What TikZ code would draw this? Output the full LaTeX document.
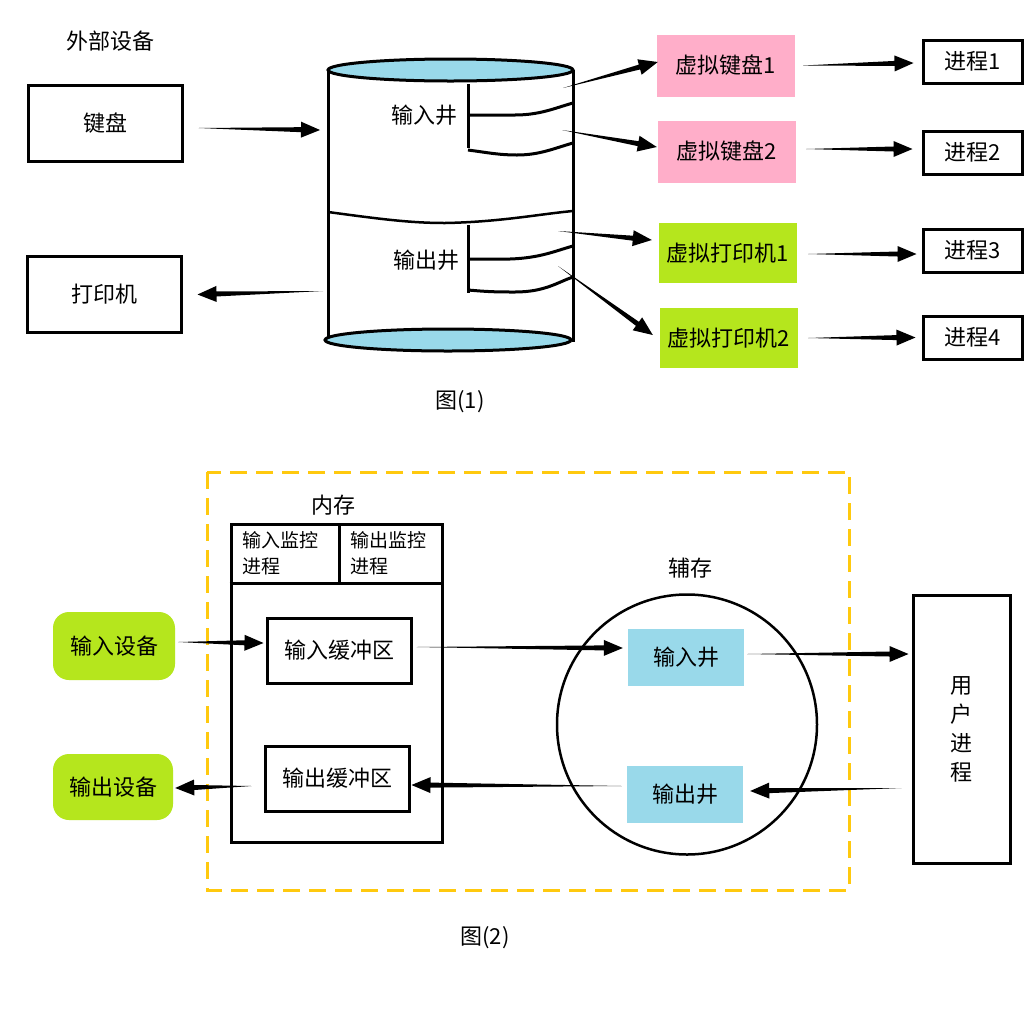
\documentclass[tikz,border=0pt]{standalone}
\usepackage{fontspec}
\setmainfont{Noto Sans CJK SC}
\usepackage{tikz}
\usetikzlibrary{calc, positioning}

\definecolor{vkpink}{HTML}{FFAEC9}
\definecolor{vpgreen}{HTML}{B5E61D}
\definecolor{wellblue}{HTML}{99D9EA}
\definecolor{dashyellow}{HTML}{FFC90E}

\begin{document}
\begin{tikzpicture}[x=1pt, y=-1pt, every node/.style={font=\fontsize{22}{26}\selectfont}]
			\tikzstyle{devbox}=[draw=black, line width=3pt, minimum width=154, minimum height=76, inner sep=0]
			\tikzstyle{virtbox}=[draw=none, minimum width=138, minimum height=62, inner sep=0]
			\tikzstyle{procbox}=[draw=black, line width=3pt, minimum width=99, minimum height=43, inner sep=0]
			\tikzstyle{bufbox}=[draw=black, line width=3pt, minimum width=144, minimum height=65, inner sep=0]
			\tikzstyle{wellbox}=[fill=wellblue, minimum width=116, minimum height=57, inner sep=0]
			\tikzstyle{iodev}=[fill=vpgreen, rounded corners=16, minimum width=122, minimum height=68, inner sep=0]
			\tikzstyle{wedge}=[fill=black, to path={
				let \p1=($(\tikztotarget)!19pt!(\tikztostart)$) in
				-- ($(\p1)!2.5pt!90:(\tikztotarget)$)
				-- ($(\p1)!8pt!90:(\tikztotarget)$)
				-- (\tikztotarget)
				-- ($(\p1)!8pt!-90:(\tikztotarget)$)
				-- ($(\p1)!2.5pt!-90:(\tikztotarget)$)
				-- cycle}]
			
			\useasboundingbox [fill=white] (0,0) rectangle (1031,1018);
			
			%% figure 1
			\node (ext) at (110,41) {外部设备};
			\node (kbd) at (105,123) [devbox] {键盘};
			\node (prn) at (104,294.5) [devbox] {打印机};
			
			%% disk
			\draw [line width=3pt] (328,70) -- (328,340);
			\draw [line width=3pt] (573,70) -- (573,342);
			\draw [line width=3pt, fill=wellblue] (450.5,70) ellipse [x radius=122.5, y radius=11];
			\draw [line width=3pt, fill=wellblue] (448,340) ellipse [x radius=123, y radius=11];
			\draw [line width=2.5pt] (328,212) .. controls (380,219) and (410,223) .. (445,223) .. controls (500,222) and (540,214) .. (573,211);
			
			\node (inw) at (424,115) {输入井};
			\draw [line width=3pt] (468,84) -- (468,148);
			\draw [line width=3pt] (468,115) -- (515,115) .. controls (540,115) and (555,108) .. (573,103);
			\draw [line width=3pt] (468,150) .. controls (490,153) and (500,155) .. (517,155) .. controls (540,155) and (555,148) .. (573,143);
			
			\node (outw) at (426,260) {输出井};
			\draw [line width=3pt] (468,225) -- (468,293);
			\draw [line width=3pt] (468,259) -- (510,259) .. controls (540,258) and (555,251) .. (573,246);
			\draw [line width=3pt] (468,290) .. controls (490,292) and (500,292) .. (515,292) .. controls (545,292) and (558,282) .. (573,277);
			
			\coordinate (dkin) at (320,130);
			\coordinate (dkout) at (323,291);
			\coordinate (w1) at (563,88);
			\coordinate (w2) at (562,130);
			\coordinate (w3) at (558,231);
			\coordinate (w4) at (558,266);
			
			\node (vk1) at (726,65.5) [virtbox, fill=vkpink] {虚拟键盘1};
			\node (vk2) at (727,151.5) [virtbox, fill=vkpink] {虚拟键盘2};
			\node (vp1) at (728,253) [virtbox, fill=vpgreen, minimum height=60] {虚拟打印机1};
			\node (vp2) at (729,338) [virtbox, fill=vpgreen, minimum height=60] {虚拟打印机2};
			
			\node (p1) at (972.5,61.5) [procbox] {进程1};
			\node (p2) at (972.5,152.5) [procbox] {进程2};
			\node (p3) at (972.5,250.5) [procbox] {进程3};
			\node (p4) at (972.5,337.5) [procbox] {进程4};
			
			\fill ([shift={(15,5)}]kbd.east) to [wedge] (dkin);
			\fill (dkout) to [wedge] ([shift={(15,0)}]prn.east);
			
			\fill (w1) to [wedge] ([shift={(1,-3.5)}]vk1.west);
			\fill (w2) to [wedge] ([shift={(-1,-4.5)}]vk2.west);
			\fill (w3) to [wedge] ([shift={(-7,-13)}]vp1.west);
			\fill (w4) to [wedge] ([shift={(-7,-3)}]vp2.west);
			
			\fill ([shift={(8,0)}]vk1.east) to [wedge] ([shift={(-8,1.5)}]p1.west);
			\fill ([shift={(10,-2.5)}]vk2.east) to [wedge] ([shift={(-9,-3.5)}]p2.west);
			\fill ([shift={(11,1)}]vp1.east) to [wedge] ([shift={(-5,3.5)}]p3.west);
			\fill ([shift={(10,0)}]vp2.east) to [wedge] ([shift={(-6,0)}]p4.west);
			
			\node (fig1) at (460,402) {图(1)};
			
			%% figure 2
			\draw [dashyellow, line width=3pt, dash pattern=on 17pt off 9pt] (207,472) rectangle (849,890);
			
			\node (memlbl) at (333,505) {内存};
			\node (mem) at (336.5,683) [draw=black, line width=3pt, minimum width=211, minimum height=318, inner sep=0] {};
			\draw [line width=3pt] (mem.west |- 0,583) -- (mem.east |- 0,583);
			\draw [line width=3pt] (339,524) -- (339,583);
			\node (inmon) at (239,553) [anchor=west, align=left, font=\fontsize{19}{26}\selectfont] {输入监控\\进程};
			\node (outmon) at (347,553) [anchor=west, align=left, font=\fontsize{19}{26}\selectfont] {输出监控\\进程};
			
			\node (inbuf) at (339,650.5) [bufbox] {输入缓冲区};
			\node (outbuf) at (337,778.5) [bufbox] {输出缓冲区};
			
			\node (indev) at (114,646) [iodev] {输入设备};
			\node (outdev) at (113,787) [iodev, minimum width=120, minimum height=66] {输出设备};
			
			\node (auxlbl) at (690,568) {辅存};
			\node (aux) at (687,724.5) [draw=black, line width=2.5pt, circle, minimum size=260, inner sep=0] {};
			\node (inwell) at (686,657.5) [wellbox] {输入井};
			\node (outwell) at (685,794.5) [wellbox] {输出井};
			
			\node (user) at (961.5,729) [draw=black, line width=3pt, minimum width=97, minimum height=268, inner sep=0, align=center, font=\fontsize{22}{29}\selectfont] {用\\户\\进\\程};
			
			\fill ([shift={(3,-4)}]indev.east) to [wedge] ([shift={(-2,-7.5)}]inbuf.west);
			\fill ([shift={(-12,7.5)}]outbuf.west) to [wedge] ([shift={(2,1)}]outdev.east);
			\fill ([shift={(4,-3.5)}]inbuf.east) to [wedge] ([shift={(-5,-9.5)}]inwell.west);
			\fill ([shift={(3,-3.5)}]inwell.east) to [wedge] ([shift={(-3,-75)}]user.west);
			\fill ([shift={(-10,59)}]user.west) to [wedge] ([shift={(7,-3.5)}]outwell.east);
			\fill ([shift={(-5,-8.5)}]outwell.west) to [wedge] ([shift={(1,6.5)}]outbuf.east);
			
			\node (fig2) at (485,938) {图(2)};
			\end{tikzpicture}
\end{document}
